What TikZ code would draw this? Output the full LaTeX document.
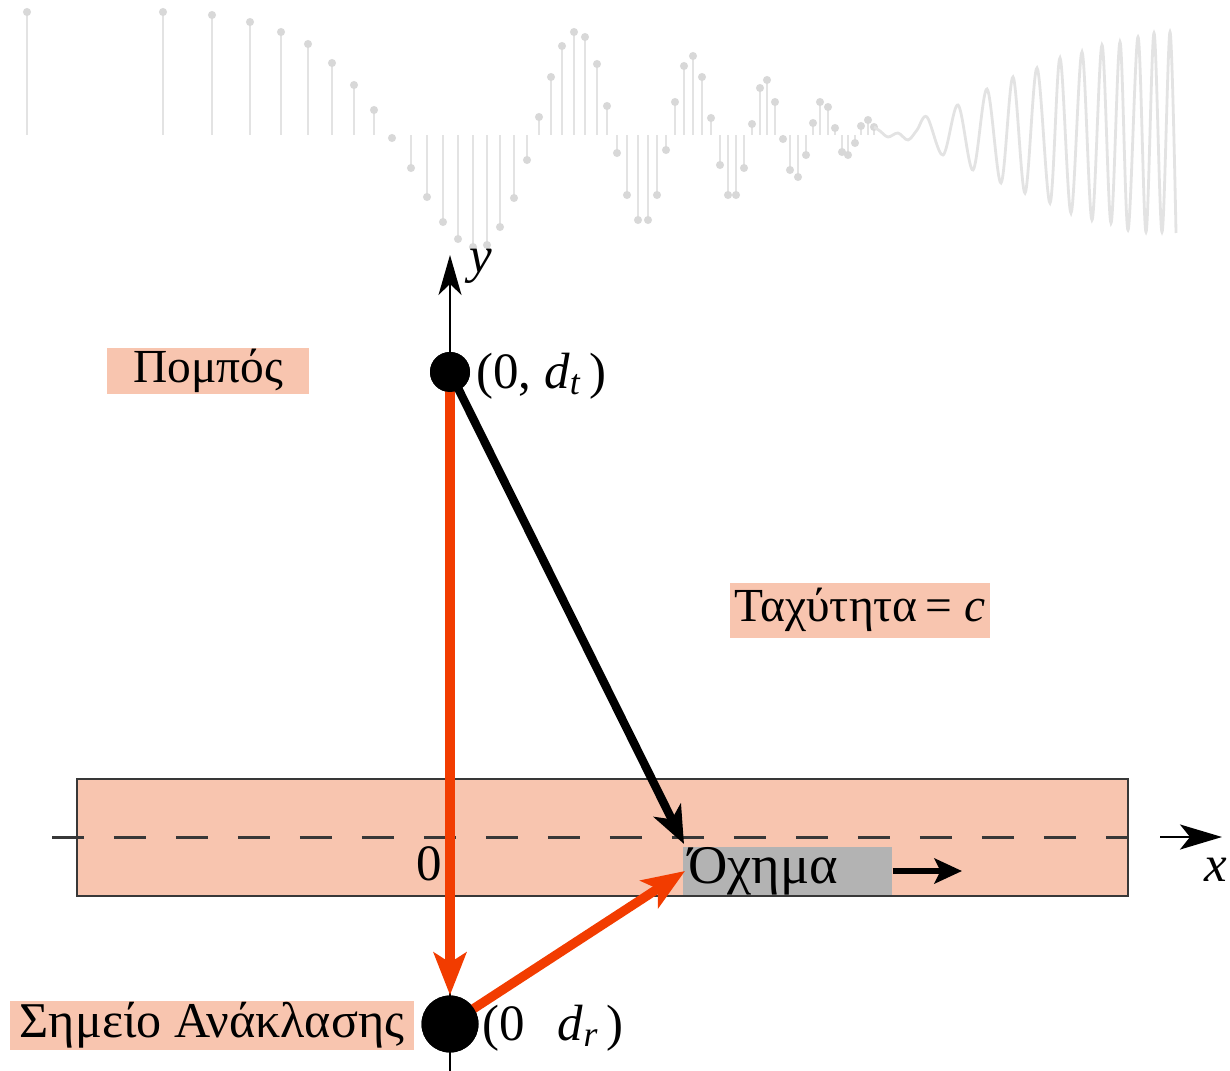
\documentclass[tikz,border=0pt]{standalone}
\usepackage{fontspec}
\setmainfont{Liberation Serif}
\usetikzlibrary{arrows.meta}
\definecolor{peach}{HTML}{F8C5AF}
\definecolor{vgray}{HTML}{B3B3B3}
\definecolor{rred}{HTML}{F23C00}
\definecolor{wave}{HTML}{E3E3E3}
\definecolor{waved}{HTML}{D8D8D8}
\definecolor{roadline}{HTML}{383838}
\begin{document}
\begin{tikzpicture}[x=0.02cm,y=-0.02cm,
  lbl/.style={font=\fontsize{27}{30}\selectfont, inner sep=0pt},
  mlbl/.style={font=\fontsize{29}{32}\selectfont, inner sep=0pt},
  box/.style={lbl, fill=peach},
  dot/.style={circle, fill=black, inner sep=0pt},
  stem/.style={draw=wave, line width=1.3pt},
  redarr/.style={draw=rred, line width=5.3pt, -{Stealth[length=0.85cm,width=0.65cm,inset=0.2cm]}},
  blkarr/.style={draw=black, line width=4.8pt, -{Stealth[length=0.75cm,width=0.6cm,inset=0.2cm]}},
  velarr/.style={draw=black, line width=3.8pt, -{Stealth[length=0.55cm,width=0.5cm,inset=0.12cm]}},
  axisline/.style={draw=black, line width=1pt},
  dashaxis/.style={draw=roadline, line width=1.7pt, dash pattern=on 0.64cm off 0.6cm}
]
\useasboundingbox (0,0) rectangle (1230,1071);

% waveform (stem plot)
\foreach \x/\y in {27/12, 163/12, 212/15, 250/22, 281/32, 308/44, 332/63, 354/85, 374/110, 392/138, 411/168, 427/197, 443/222, 458/239, 473/247, 487/245, 500/227, 514/198, 527/160, 539/117, 551/77, 562/46, 574/32, 585/37, 597/64, 607/106, 617/153, 627/195, 638/220, 648/220, 657/195, 666/150, 675/102, 684/66, 693/56, 702/77, 711/118, 720/165, 728/195, 736/195, 744/168, 752/124, 760/88, 767/80, 775/102, 783/139, 790/170, 798/177, 806/155, 813/123, 820/102, 828/107, 835/128, 842/152, 848/155, 855/143, 861/126, 868/120, 874/127}{
  \draw[stem] (\x,135) -- (\x,\y);
  \fill[waved] (\x,\y) circle (2.3pt);
}
\draw[wave, line width=1.6pt] plot[smooth, tension=0.55] coordinates {(874,127) (880,131) (888,137) (898,133) (908,140) (917,130) (927,117) (943,155) (958,105) (973,170) (987,89) (1001,183) (1013,77) (1025,193) (1037,68) (1050,203) (1060,58) (1071,213) (1082,52) (1092,220) (1102,45) (1111,223) (1120,42) (1128,230) (1138,37) (1146,232) (1154,33) (1162,232) (1170,32) (1176,233)};

% road
\fill[peach, draw=roadline, line width=1.2pt] (77,779) rectangle (1128,896);

% axes
\coordinate (xl) at (52,837);
\coordinate (xm) at (1128,837);
\coordinate (xa) at (1160,837);
\coordinate (xr) at (1222,837);
\draw[dashaxis] (xl) -- (xm);
\draw[draw=black, line width=1.4pt, -{Stealth[length=0.84cm,width=0.5cm,inset=0.2cm]}] (xa) -- (xr);
\coordinate (ybot) at (450,1071);
\coordinate (ytop) at (450,255);
\draw[axisline, -{Stealth[length=0.8cm,width=0.46cm,inset=0.22cm]}] (ybot) -- (ytop);

% labels
\node[mlbl] (ylab) at (481,266) {\textit{y}};
\node[mlbl] (xlab) at (1216,870) {\textit{x}};
\node[mlbl] (zero) at (429,864) {0};
\node[box, minimum width=4.06cm, minimum height=0.94cm] (pompos) at (208,371) {Πομπός};
\node[box, font=\fontsize{28.5}{30}\selectfont, minimum width=8.1cm, minimum height=0.98cm] (anakl) at (212,1025) {Σημείο Ανάκλασης};
\node[box, minimum width=5.2cm, minimum height=1.1cm] (speed) at (860,610) {Ταχύτητα\,= \textit{c}};
\node[lbl, font=\fontsize{31}{32}\selectfont, fill=vgray, anchor=west, inner xsep=0.1cm, text width=3.98cm, align=left, minimum height=0.88cm] (car) at (683,871) {Όχημα};

% points
\node[dot, minimum size=0.8cm] (tx) at (450,372) {};
\node[dot, minimum size=1.14cm] (rx) at (450,1024) {};
\node[mlbl, anchor=west] (txl) at (476,376) {(0, \textit{d}\textsubscript{\textit{t}}\,)};
\node[mlbl, anchor=west] (rxl) at (482,1028) {(0\hspace{0.65em}\textit{d}\textsubscript{\textit{r}}\,)};

% connectors
\coordinate (hit) at (684,844);
\coordinate (hit2) at (685,871);
\coordinate (va) at (962,871);
\draw[redarr] (tx.center) -- (rx.north);
\draw[blkarr] (tx.center) -- (hit);
\draw[redarr] (rx.center) -- (hit2);
\draw[velarr] (car.east) -- (va);
\node[dot, minimum size=0.8cm] at (tx) {};
\node[dot, minimum size=1.14cm] at (rx) {};
\end{tikzpicture}
\end{document}
